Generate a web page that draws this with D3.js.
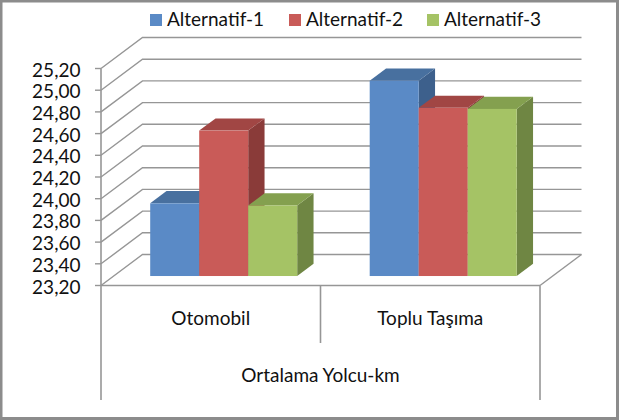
<!DOCTYPE html>
<html><head><meta charset="utf-8">
<script src="https://cdn.jsdelivr.net/npm/d3@7/dist/d3.min.js"></script>
<style>html,body{margin:0;padding:0;background:#fff}svg{display:block}text{font-family:Lato,"Open Sans",sans-serif;fill:#111}</style>
</head><body><svg id="c" width="619" height="420"></svg>
<script>
const categories = ["Otomobil", "Toplu Taşıma"];
const seriesNames = ["Alternatif-1", "Alternatif-2", "Alternatif-3"];
const alt1 = [23.87, 25.00];
const alt2 = [24.54, 24.75];
const alt3 = [23.85, 24.74];
const frontColors = ["#5a8ac6", "#c95b58", "#a5c365"];
const topColors = ["#48709f", "#a14644", "#84a04f"];
const sideColors = ["#3d608c", "#8a3b39", "#6f8643"];
const yTicks = [23.2,23.4,23.6,23.8,24.0,24.2,24.4,24.6,24.8,25.0,25.2];
const outerLabel = "Ortalama Yolcu-km";
const values = [alt1, alt2, alt3];

const svg = d3.select("#c");
svg.append("rect").attr("x",1).attr("y",1).attr("width",616.5).attr("height",417.5)
  .attr("fill","#fff").attr("stroke","#8c8c8c").attr("stroke-width",3);

const y = d3.scaleLinear().domain([23.2,25.2]).range([285.5,68.5]);
const x0 = d3.scaleBand().domain(categories).range([101,540]);
const inner = d3.scaleBand().domain(d3.range(3)).range([36.5,183.5]);
const DX = 41.5, DY = -31;
const grid = "#969696";

const g = svg.append("g");
yTicks.forEach(t => {
  const Y = y(t);
  g.append("path").attr("fill","none").attr("stroke",grid).attr("stroke-width",1.4)
    .attr("d", `M${x0.range()[0]},${Y}L${x0.range()[0]+DX},${Y+DY}L${x0.range()[1]+DX},${Y+DY}`);
  g.append("line").attr("x1",95).attr("x2",101).attr("y1",Y).attr("y2",Y).attr("stroke",grid).attr("stroke-width",1.4);
  g.append("text").attr("x",80.5).attr("y",Y+8).attr("text-anchor","end").attr("font-size",19).text(d3.format(".2f")(t).replace(".",","));
});
g.append("path").attr("fill","none").attr("stroke",grid).attr("stroke-width",1.4)
  .attr("d",`M${x0.range()[1]+DX},${y(23.2)+DY}L${x0.range()[1]},${y(23.2)}`);

const z0 = 0.306, z1 = 0.70;
const base = 23.2;
categories.forEach((c,ci) => {
  d3.range(3).forEach(si => {
    const xl = x0(c)+inner(si), xr = xl+inner.bandwidth();
    const v = values[si][ci];
    const yb = y(base)+DY*z0, yt = y(v)+DY*z0;
    const sx = DX*z0, ddx = DX*(z1-z0), ddy = DY*(z1-z0);
    const X = xl+sx, R = xr+sx;
    g.append("path").attr("fill",sideColors[si]).attr("d",`M${R},${yt}L${R+ddx},${yt+ddy}L${R+ddx},${yb+ddy}L${R},${yb}Z`);
    g.append("path").attr("fill",topColors[si]).attr("d",`M${X},${yt}L${X+ddx},${yt+ddy}L${R+ddx},${yt+ddy}L${R},${yt}Z`);
    g.append("rect").attr("x",X).attr("y",yt).attr("width",R-X).attr("height",yb-yt).attr("fill",frontColors[si]);
  });
});

const axis = (x1,y1,x2,y2)=>g.append("line").attr("x1",x1).attr("y1",y1).attr("x2",x2).attr("y2",y2).attr("stroke",grid).attr("stroke-width",1.6);
axis(101,y(25.2),101,400);
axis(101,y(23.2),540,y(23.2));
axis(x0("Toplu Taşıma"),y(23.2),x0("Toplu Taşıma"),343);
axis(540,y(23.2),540,400);

categories.forEach(c=>{
  g.append("text").attr("x",x0(c)+x0.bandwidth()/2).attr("y",325).attr("text-anchor","middle").attr("font-size",19).text(c);
});
g.append("text").attr("x",320.5).attr("y",381.5).attr("text-anchor","middle").attr("font-size",19).text(outerLabel);

const legendX = d3.scaleOrdinal().domain(seriesNames).range([150,289,427]);
seriesNames.forEach((s,i)=>{
  g.append("rect").attr("x",legendX(s)).attr("y",14).attr("width",12).attr("height",12).attr("fill",frontColors[i]);
  g.append("text").attr("x",legendX(s)+17).attr("y",26).attr("font-size",19).text(s);
});
</script></body></html>
